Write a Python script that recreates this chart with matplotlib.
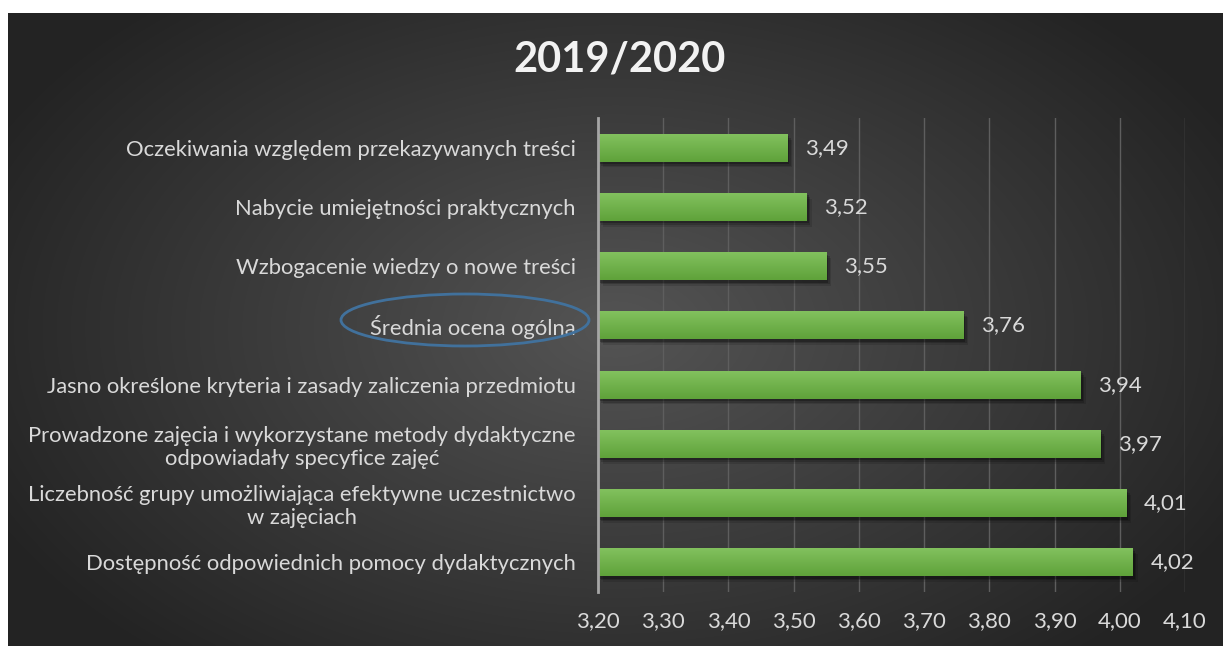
import numpy as np
import matplotlib.pyplot as plt
import matplotlib.patheffects as pe
from matplotlib.patches import Ellipse

categories = [
    "Dostępność odpowiednich pomocy dydaktycznych",
    "Liczebność grupy umożliwiająca efektywne uczestnictwo\nw zajęciach",
    "Prowadzone zajęcia i wykorzystane metody dydaktyczne\nodpowiadały specyfice zajęć",
    "Jasno określone kryteria i zasady zaliczenia przedmiotu",
    "Średnia ocena ogólna",
    "Wzbogacenie wiedzy o nowe treści",
    "Nabycie umiejętności praktycznych",
    "Oczekiwania względem przekazywanych treści",
]
values = [4.02, 4.01, 3.97, 3.94, 3.76, 3.55, 3.52, 3.49]
x_ticks = [3.20, 3.30, 3.40, 3.50, 3.60, 3.70, 3.80, 3.90, 4.00, 4.10]
title = "2019/2020"

plt.rcParams['font.family'] = ['Lato', 'DejaVu Sans']
W, H = 1223, 646
fig = plt.figure(figsize=(W / 100, H / 100), dpi=100)
fig.patch.set_facecolor('white')

# dark radial background panel
bg = fig.add_axes([8 / W, 0, 1 - 8 / W, 1 - 13 / H], zorder=-5)
yy, xx = np.mgrid[0:1:300j, 0:1:600j]
r = np.sqrt(((xx - 0.5) / 0.75) ** 2 + ((yy - 0.5) / 0.9) ** 2)
shade = np.clip(0.33 - 0.25 * r, 0.14, 0.34)
bg.imshow(np.dstack([shade] * 3), extent=[0, 1, 0, 1], aspect='auto', interpolation='bilinear')
bg.set_axis_off()

ax = fig.add_axes([598 / W, 1 - 592 / H, (1185 - 598) / W, (592 - 118) / H])
ax.set_facecolor('none')
y = np.arange(len(categories))
shadow = [pe.SimplePatchShadow(offset=(o, -o * 1.2), alpha=a, shadow_rgbFace='black')
          for o, a in [(3.5, 0.12), (2.5, 0.18), (1.5, 0.25)]]
bars = ax.barh(y, [v - 3.2 for v in values], left=3.2, height=0.47, color='#6aad45',
               zorder=3, path_effects=shadow + [pe.Normal()])
grad = np.linspace(0, 1, 50).reshape(-1, 1)
top = np.array([0x82, 0xc1, 0x5e]) / 255
bot = np.array([0x5f, 0xa2, 0x3a]) / 255
img = (grad[..., None] * top + (1 - grad[..., None]) * bot)
for b in bars:
    x0, y0, w, h = b.get_x(), b.get_y(), b.get_width(), b.get_height()
    im = ax.imshow(img, extent=[x0, x0 + w, y0, y0 + h], origin='lower', aspect='auto',
                   interpolation='bilinear', zorder=4)
    im.set_clip_path(b)

for v, yi in zip(values, y):
    ax.text(v + 0.027, yi, f"{v:.2f}".replace('.', ','), va='center', ha='left',
            color='#d9d9d9', fontsize=16, zorder=5)

ax.set_xlim(3.2, 4.1)
ax.set_ylim(-0.5, len(categories) - 0.5)
ax.set_xticks(x_ticks)
ax.set_xticklabels([f"{t:.2f}".replace('.', ',') for t in x_ticks])
ax.set_yticks(y)
ax.set_yticklabels(categories, multialignment='center')
ax.tick_params(axis='both', length=0, colors='#d9d9d9', labelsize=15.8)
ax.tick_params(axis='x', labelsize=16)
ax.tick_params(axis='y', pad=16)
ax.tick_params(axis='x', pad=14)
ax.grid(axis='x', color='#5e5e5e', linewidth=1, zorder=0)
for s in ['top', 'right', 'bottom']:
    ax.spines[s].set_visible(False)
ax.spines['left'].set_color('#a6a6a6')
ax.spines['left'].set_linewidth(2)
ax.spines['left'].set_zorder(6)

fig.text(620 / W, 1 - 60 / H, title, ha='center', va='center', fontsize=30,
         fontweight='bold', color='#f2f2f2')

# highlight ellipse around overall mean label
fig.add_artist(Ellipse((465 / W, 1 - 320 / H), 248 / W, 52 / H, transform=fig.transFigure,
                       fill=False, edgecolor='#41719c', linewidth=2))

fig.savefig('out.png', dpi=100)
